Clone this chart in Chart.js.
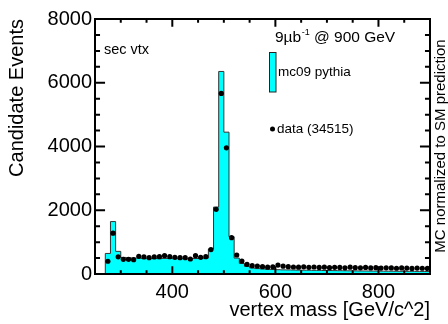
<!DOCTYPE html>
<html><head><meta charset="utf-8">
<script src="https://cdn.jsdelivr.net/npm/chart.js@4"></script>
<style>html,body{margin:0;padding:0;background:#fff}canvas{display:block}</style>
</head><body>
<canvas id="c" width="448" height="324"></canvas>
<script>
// ---- data ----
const binStart = 270, binWidth = 10;
const mcCounts = [645,1645,710,
  520,510,500,500,490,490,485,480,490,485,480,485,480,480,485,490,500,
  785,2100,6354,4450,1170,500,330,240,190,170,160,150,140,
  135,130,128,125,122,120,118,115,113,110,108,106,104,102,100,98,96,95,93,92,90,89,88,86,85,84,83,82,81,80];
const dataCounts = [400,1280,540,460,460,450,555,535,513,535,545,575,545,523,513,513,470,575,523,545,
  765,2030,5665,3960,1140,596,408,303,262,251,230,215,
  225,280,245,230,220,215,225,210,220,205,215,200,210,205,195,215,200,195,205,190,200,185,195,190,180,190,185,175,185,180,175];
const xRange = [250, 900];
const yRange = [0, 8000];
const xTickLabels = [400, 600, 800];
const xMinorTicks = [300, 350, 450, 500, 550, 650, 700, 750, 850];
const yTickLabels = [0, 2000, 4000, 6000, 8000];
const yMinorTicks = [500,1000,1500,2500,3000,3500,4500,5000,5500,6500,7000,7500];
const FONT = '"Liberation Sans", Arial, Helvetica, sans-serif';

const histPts = [{x: binStart, y: 0}];
mcCounts.forEach((v, i) => histPts.push({x: binStart + i * binWidth, y: v}));
histPts.push({x: binStart + mcCounts.length * binWidth, y: mcCounts[mcCounts.length - 1]});
const dataPts = dataCounts.map((v, i) => ({x: binStart + (i + 0.5) * binWidth, y: v}));

const deco = {
  id: 'deco',
  afterDatasetsDraw(chart) {
    const {ctx, chartArea: a, scales: {x, y}} = chart;
    ctx.save();
    ctx.strokeStyle = '#000';
    ctx.lineWidth = 2;
    const xMaj = 0.03 * (a.bottom - a.top), yMaj = 0.03 * (a.right - a.left);
    ctx.beginPath();
    const xt = (v, len) => { const px = x.getPixelForValue(v);
      ctx.moveTo(px, a.bottom); ctx.lineTo(px, a.bottom - len);
      ctx.moveTo(px, a.top); ctx.lineTo(px, a.top + len); };
    const yt = (v, len) => { const py = y.getPixelForValue(v);
      ctx.moveTo(a.left, py); ctx.lineTo(a.left + len, py);
      ctx.moveTo(a.right, py); ctx.lineTo(a.right - len, py); };
    xTickLabels.forEach(v => xt(v, xMaj));
    xMinorTicks.forEach(v => xt(v, xMaj / 2));
    yTickLabels.forEach(v => yt(v, yMaj));
    yMinorTicks.forEach(v => yt(v, yMaj / 2));
    ctx.stroke();
    ctx.strokeRect(a.left, a.top, a.right - a.left, a.bottom - a.top);

    // texts
    ctx.fillStyle = '#000';
    ctx.textBaseline = 'middle';
    ctx.textAlign = 'left';
    ctx.font = '14.5px ' + FONT;
    ctx.fillText('sec vtx', 104, 50);

    ctx.font = '15.5px ' + FONT;
    let tx = 275;
    ctx.fillText('9\u00b5b', tx, 38); tx += ctx.measureText('9\u00b5b').width + 0.5;
    ctx.font = '9px ' + FONT;
    ctx.fillText('-1', tx, 33); tx += ctx.measureText('-1').width;
    ctx.font = '15.5px ' + FONT;
    ctx.fillText(' @ 900 GeV', tx, 38);

    ctx.font = '13.5px ' + FONT;
    ctx.fillStyle = '#00ffff';
    ctx.fillRect(269, 52, 7, 40);
    ctx.lineWidth = 1; ctx.strokeStyle = '#222';
    ctx.strokeRect(269.5, 52.5, 6.5, 39.5);
    ctx.fillStyle = '#000';
    ctx.fillText('mc09 pythia', 278, 72);
    ctx.beginPath(); ctx.arc(272.5, 129, 2.5, 0, Math.PI * 2); ctx.fill();
    ctx.fillText('data (34515)', 277, 129);

    ctx.font = '15px ' + FONT;
    ctx.translate(441, 146);
    ctx.rotate(-Math.PI / 2);
    ctx.textAlign = 'center';
    ctx.fillText('MC normalized to SM prediction', 0, 0);
    ctx.restore();
  }
};

new Chart(document.getElementById('c'), {
  type: 'scatter',
  data: {
    datasets: [
      { type: 'scatter', label: 'data (34515)', data: dataPts, order: 0,
        pointRadius: 2.6, pointBackgroundColor: '#000', pointBorderWidth: 0, showLine: false },
      { type: 'line', label: 'mc09 pythia', data: histPts, order: 1, stepped: 'before',
        fill: 'origin', backgroundColor: '#00ffff', borderColor: '#333', borderWidth: 1,
        pointRadius: 0, tension: 0 }
    ]
  },
  options: {
    responsive: false, animation: false, devicePixelRatio: 1,
    layout: { padding: { left: 0, right: 18, top: 19, bottom: 0 } },
    plugins: { legend: { display: false }, tooltip: { enabled: false } },
    scales: {
      x: {
        type: 'linear', min: xRange[0], max: xRange[1],
        grid: { display: false, drawTicks: false }, border: { display: false },
        afterBuildTicks: s => { s.ticks = xTickLabels.map(v => ({value: v})); },
        afterFit: s => { s.height = 50; },
        ticks: { color: '#000', padding: 6, font: { family: FONT, size: 20 }, maxRotation: 0,
          callback: v => String(v) },
        title: { display: true, text: 'vertex mass [GeV/c^2]', align: 'end', color: '#000',
          font: { family: FONT, size: 20 }, padding: { top: 0, bottom: 2 } }
      },
      y: {
        type: 'linear', min: yRange[0], max: yRange[1],
        grid: { display: false, drawTicks: false }, border: { display: false },
        afterBuildTicks: s => { s.ticks = yTickLabels.map(v => ({value: v})); },
        afterFit: s => { s.width = 95; },
        ticks: { color: '#000', padding: 3, font: { family: FONT, size: 20 },
          callback: v => String(v) },
        title: { display: true, text: 'Candidate Events', align: 'end', color: '#000',
          font: { family: FONT, size: 20 }, padding: { top: 5, bottom: 0 } }
      }
    }
  },
  plugins: [deco]
});
</script>
</body></html>
